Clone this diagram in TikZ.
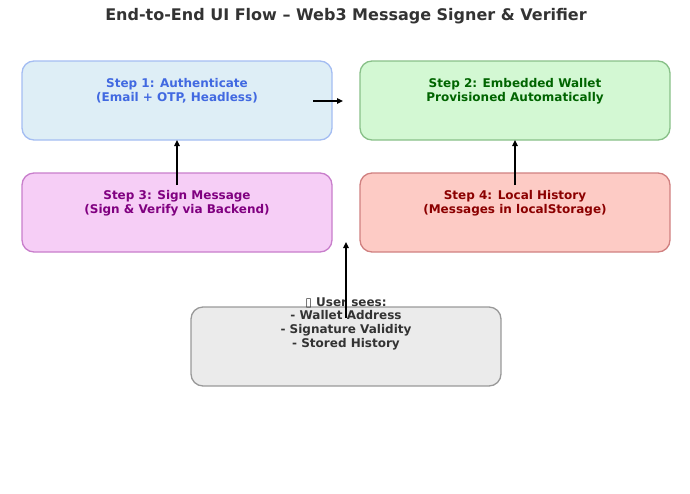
\documentclass[tikz,border=0pt]{standalone}
\usepackage{fontspec}
\setmainfont{DejaVu Sans}
\usetikzlibrary{arrows.meta}
\definecolor{titlec}{HTML}{333333}
\definecolor{fA}{HTML}{DEEEF6}\definecolor{dA}{HTML}{A4BDF2}\definecolor{tA}{HTML}{4169E1}
\definecolor{fB}{HTML}{D3F8D3}\definecolor{dB}{HTML}{88C088}\definecolor{tB}{HTML}{006400}
\definecolor{fC}{HTML}{F6CEF6}\definecolor{dC}{HTML}{C87ECB}\definecolor{tC}{HTML}{800080}
\definecolor{fD}{HTML}{FDCBC5}\definecolor{dD}{HTML}{D08080}\definecolor{tD}{HTML}{8B0000}
\definecolor{fE}{HTML}{EBEBEB}\definecolor{dE}{HTML}{999999}\definecolor{tE}{HTML}{333333}
\tikzset{
  stepbox/.style={draw=#1, line width=1.3pt, rounded corners=12pt},
  steptext/.style={font=\bfseries\fontsize{12pt}{14pt}\selectfont, align=center, inner sep=0pt},
  flow/.style={-{Triangle[length=6pt,width=5.5pt]}, line width=1.3pt, black},
}
\begin{document}
\begin{tikzpicture}[x=1pt,y=-1pt]
\useasboundingbox (0,0) rectangle (690,493);
\node[font=\bfseries\fontsize{16pt}{18pt}\selectfont, text=titlec, inner sep=0pt] (title) at (346,16) {End-to-End UI Flow – Web3 Message Signer \& Verifier};
% boxes
\path[stepbox=dA, fill=fA] (22,61) rectangle (332,140);
\path[stepbox=dB, fill=fB] (360,61) rectangle (670,140);
\path[stepbox=dC, fill=fC] (22,173) rectangle (332,252);
\path[stepbox=dD, fill=fD] (360,173) rectangle (670,252);
\path[stepbox=dE, fill=fE] (191,307) rectangle (501,386);
\coordinate (b1bot) at (177,140);
\coordinate (b2bot) at (515,140);
\coordinate (b3in) at (177,185);
\coordinate (b4in) at (515,185);
\coordinate (b1r) at (313,101);
\coordinate (b2l) at (343,101);
\coordinate (b5in) at (346,318);
\coordinate (mid) at (346,242);
% texts
\node[steptext, text=tA] (t1) at (177,91) {Step 1: Authenticate\\(Email + OTP, Headless)};
\node[steptext, text=tB] (t2) at (515,91) {Step 2: Embedded Wallet\\Provisioned Automatically};
\node[steptext, text=tC] (t3) at (177,203) {Step 3: Sign Message\\(Sign \& Verify via Backend)};
\node[steptext, text=tD] (t4) at (515,203) {Step 4: Local History\\(Messages in localStorage)};
\node[steptext, text=tE, font=\bfseries\fontsize{12pt}{13.7pt}\selectfont] (t5) at (346,323.5) {{\mdseries ▯} User sees:\\- Wallet Address\\- Signature Validity\\- Stored History};
% arrows
\draw[flow] (b1r) -- (b2l);
\draw[flow] (b3in) -- (b1bot);
\draw[flow] (b4in) -- (b2bot);
\draw[flow] (b5in) -- (mid);
\end{tikzpicture}
\end{document}
